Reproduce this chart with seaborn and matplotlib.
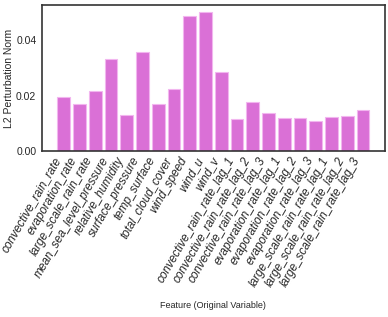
import matplotlib
matplotlib.use("Agg")
import matplotlib.pyplot as plt
import seaborn as sns
import numpy as np

features = [
    "convective_rain_rate", "evaporation_rate", "large_scale_rain_rate",
    "mean_sea_level_pressure", "relative_humidity", "surface_pressure",
    "temp_surface", "total_cloud_cover", "wind_speed", "wind_u", "wind_v",
    "convective_rain_rate_lag_1", "convective_rain_rate_lag_2",
    "convective_rain_rate_lag_3", "evaporation_rate_lag_1",
    "evaporation_rate_lag_2", "evaporation_rate_lag_3",
    "large_scale_rain_rate_lag_1", "large_scale_rain_rate_lag_2",
    "large_scale_rain_rate_lag_3",
]
l2_norm = [0.0194, 0.0171, 0.0216, 0.0333, 0.0130, 0.0359, 0.0170, 0.0224,
           0.0488, 0.0503, 0.0284, 0.0115, 0.0178, 0.0139, 0.0120, 0.0118,
           0.0108, 0.0124, 0.0128, 0.0148]

sns.set_style("white")
plt.rcParams['font.family'] = ['Liberation Sans', 'DejaVu Sans']

fig = plt.figure(figsize=(3.88, 3.17), dpi=100)
ax = fig.add_axes([0.108, 0.524, 0.884, 0.46])
x = np.arange(len(features))
ax.bar(x, l2_norm, width=0.8, color="orchid", edgecolor="#f2b6ef", linewidth=0.8)
ax.set_xticks(x)
ax.set_xticklabels(features, rotation=60, ha="right", fontsize=8.5, style="italic")
ax.set_yticks([0.0, 0.02, 0.04])
ax.set_yticklabels(["0.00", "0.02", "0.04"], fontsize=7.5)
ax.tick_params(axis="both", length=0)
ax.tick_params(axis="y", pad=4)
ax.tick_params(axis="x", pad=3)
ax.set_ylabel("L2 Perturbation Norm", fontsize=7.5)
ax.set_xlabel("Feature (Original Variable)", fontsize=6.5)
ax.yaxis.set_label_coords(-0.082, 0.5)
ax.xaxis.set_label_coords(0.5, -1.03)
for s in ax.spines.values():
    s.set_color("#333333")
    s.set_linewidth(1.2)

fig.savefig("out.png", dpi=100)
